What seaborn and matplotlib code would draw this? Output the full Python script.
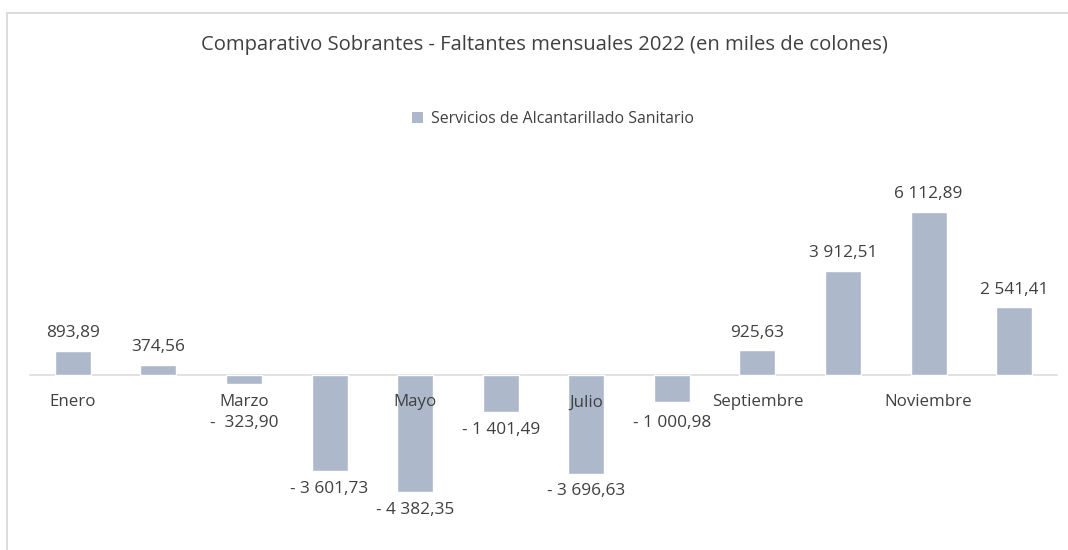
import pandas as pd
import matplotlib.pyplot as plt
import seaborn as sns
from matplotlib.lines import Line2D
from matplotlib.patches import Patch

# Data (miles de colones)
months = ['Enero', 'Febrero', 'Marzo', 'Abril', 'Mayo', 'Junio', 'Julio',
          'Agosto', 'Septiembre', 'Octubre', 'Noviembre', 'Diciembre']
values = [893.89, 374.56, -323.90, -3601.73, -4382.35, -1401.49, -3696.63,
          -1000.98, 925.63, 3912.51, 6112.89, 2541.41]
shown_ticks = ['Enero', 'Marzo', 'Mayo', 'Julio', 'Septiembre', 'Noviembre']
series_name = 'Servicios de Alcantarillado Sanitario'
title = 'Comparativo Sobrantes - Faltantes mensuales 2022 (en miles de colones)'

bar_color = '#ADB9CA'
text_color = '#404040'
grid_color = '#D9D9D9'

df = pd.DataFrame({'mes': months, 'valor': values})

sns.set_style('white')
plt.rcParams['font.family'] = ['Open Sans', 'DejaVu Sans']


def fmt(v):
    s = f'{abs(v):,.2f}'.replace(',', ' ').replace('.', ',')
    if v < 0:
        return ('-  ' if abs(v) < 1000 else '- ') + s
    return s


fig = plt.figure(figsize=(10.68, 5.5), dpi=100)
ax = fig.add_axes([30 / 1068, 20 / 550, 1027 / 1068, 380 / 550])

sns.barplot(data=df, x='mes', y='valor', color=bar_color, width=0.42,
            saturation=1, ax=ax, zorder=2)

ax.set_ylim(-5812, 8437)
ax.set_xlim(-0.5, 11.5)
for s in ['top', 'right', 'left']:
    ax.spines[s].set_visible(False)
ax.spines['bottom'].set_position(('data', 0))
ax.spines['bottom'].set_color(grid_color)
ax.spines['bottom'].set_linewidth(1.1)
ax.spines['bottom'].set_zorder(1)
ax.set_yticks([])
ax.set_xlabel('')
ax.set_ylabel('')

idx = [months.index(m) for m in shown_ticks]
ax.set_xticks(idx)
ax.set_xticklabels(shown_ticks)
ax.tick_params(axis='x', length=0, pad=14, labelsize=12.2, labelcolor=text_color)
ax.xaxis.set_zorder(3)  # category labels drawn over the bars, as in Excel

# data labels; negative labels kept clear of the category labels
for i, v in enumerate(values):
    if v >= 0:
        ax.annotate(fmt(v), (i, v), xytext=(0, 7), textcoords='offset points',
                    ha='center', va='bottom', fontsize=12.4, color=text_color)
    else:
        ax.annotate(fmt(v), (i, min(v, -1150)), xytext=(0, -7), textcoords='offset points',
                    ha='center', va='top', fontsize=12.4, color=text_color)

fig.text(544 / 1068, 1 - 45 / 550, title, ha='center', va='center',
         fontsize=14.6, color=text_color)

handle = Patch(facecolor=bar_color, edgecolor='none')
fig.legend([handle], [series_name], loc='center', bbox_to_anchor=(553 / 1068, 1 - 119 / 550),
           frameon=False, fontsize=11.4, labelcolor=text_color, handlelength=0.7,
           handleheight=0.7, handletextpad=0.5)

# chart border
fig.add_artist(Line2D([7 / 1068, 1], [1 - 13 / 550, 1 - 13 / 550],
                      color=grid_color, lw=1.3, transform=fig.transFigure))
fig.add_artist(Line2D([7 / 1068, 7 / 1068], [0, 1 - 13 / 550],
                      color=grid_color, lw=1.3, transform=fig.transFigure))

fig.savefig('out.png', dpi=100)
